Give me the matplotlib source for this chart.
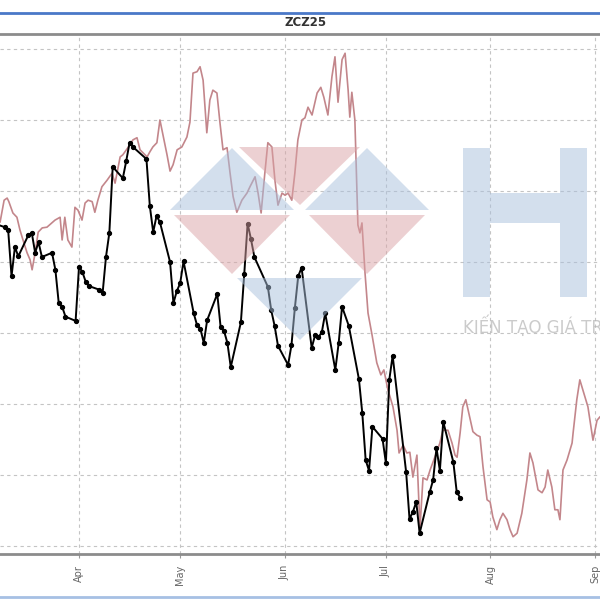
import matplotlib

matplotlib.use("Agg")
import matplotlib.dates as mdates
import matplotlib.pyplot as plt
import numpy as np
import pandas as pd
from matplotlib.lines import Line2D
from matplotlib.patches import Polygon, Rectangle

contract = "ZCZ25"

# black series: one close per CBOT trading day
cbot_holidays = ["2025-04-18", "2025-05-26", "2025-06-19", "2025-07-04"]
black_dates = pd.bdate_range("2025-03-07", "2025-07-23", freq="C", holidays=cbot_holidays)
black_vals = [
    # March
    445.4, 444.9, 444.5, 438.0, 442.1, 440.8, 443.8, 444.1, 441.3, 442.8,
    440.7, 441.3, 438.9, 434.2, 433.7, 432.3, 431.7,
    # April
    439.3, 438.6, 437.2, 436.6, 436.1, 435.6, 440.7, 444.1, 453.4, 451.8,
    454.2, 456.8, 456.2, 454.5, 447.9, 444.2, 446.5, 445.6, 440.0, 434.2,
    435.9,
    # May
    437.0, 440.1, 432.8, 431.1, 430.6, 428.6, 431.8, 435.5, 430.8, 430.3,
    428.6, 425.2, 431.5, 438.3, 445.4, 443.2, 440.7, 436.5, 433.2, 431.0,
    428.2,
    # June
    425.5, 428.3, 433.5, 438.0, 439.2, 427.9, 429.7, 429.4, 430.1, 432.8,
    424.8, 428.6, 433.7, 431.0, 423.5, 418.7, 412.1, 410.6, 416.8, 415.1,
    # July
    411.7, 423.4, 426.8, 410.4, 403.8, 404.8, 406.2, 401.8, 407.6, 409.3,
    413.8, 410.6, 417.5, 411.8, 407.6, 406.8,
]

# rosy series: days counted from 1 April 2025
pink_days = [
    -24.5, -23.4, -22.2, -21.3, -20.8, -19.6, -18.4, -17.5, -16.6, -15.4,
    -14.5, -13.9, -13.0, -12.1, -10.9, -9.5, -7.1, -5.6, -5.0, -4.2,
    -3.3, -2.1, -1.2, -0.3, 0.9, 1.8, 2.7, 3.9, 4.7, 5.6,
    6.8, 8.3, 9.8, 10.7, 12.2, 13.0, 14.5, 16.0, 17.2, 18.1,
    20.2, 21.0, 21.9, 23.1, 24.0, 24.9, 26.1, 27.0, 27.9, 29.1,
    30.5, 32.0, 32.9, 33.8, 35.0, 35.9, 36.8, 37.9, 38.8, 39.7,
    40.9, 41.8, 42.7, 43.9, 44.8, 45.7, 46.8, 48.3, 49.8, 50.7,
    52.2, 53.1, 54.0, 55.1, 56.0, 57.2, 58.1, 59.0, 60.2, 61.1,
    62.0, 63.1, 64.0, 64.9, 66.1, 67.0, 67.9, 69.1, 70.6, 71.7,
    72.6, 73.8, 75.0, 75.9, 76.8, 78.0, 78.9, 79.8, 80.3, 80.9,
    81.8, 82.7, 83.3, 83.9, 84.8, 85.7, 86.9, 88.3, 89.5, 90.4,
    91.6, 93.1, 94.3, 94.9, 96.1, 97.2, 98.1, 99.0, 100.2, 101.1,
    102.0, 103.2, 104.1, 105.5, 107.0, 107.9, 109.4, 110.6, 111.5, 112.1,
    113.0, 113.8, 114.7, 115.6, 116.8, 118.0, 118.9, 119.8, 121.0, 121.9,
    122.7, 123.9, 124.8, 125.7, 126.9, 127.8, 128.7, 129.9, 131.3, 132.8,
    133.7, 134.6, 136.1, 137.3, 138.2, 139.0, 140.2, 141.1, 142.0, 142.6,
    143.5, 144.7, 146.2, 146.5, 147.6, 148.5, 150.0, 150.9, 152.4, 153.6,
    154.5, 155.5,
]
pink_vals = [
    446.0, 445.6, 448.7, 449.0, 448.5, 446.9, 446.3, 444.5, 443.1, 441.3,
    440.3, 438.9, 441.3, 444.2, 444.8, 444.9, 445.9, 446.3, 443.1, 446.3,
    443.1, 442.1, 447.7, 447.3, 445.9, 448.3, 448.7, 448.5, 447.0, 448.7,
    450.6, 451.5, 452.5, 451.1, 454.8, 455.1, 456.1, 457.2, 457.5, 455.8,
    454.8, 455.5, 456.2, 456.8, 460.0, 457.9, 455.1, 452.8, 453.7, 455.8,
    456.2, 457.6, 459.7, 466.6, 466.8, 467.5, 465.6, 458.2, 462.8, 464.2,
    463.8, 459.6, 455.8, 456.1, 452.5, 449.2, 447.0, 448.7, 449.7, 450.6,
    452.0, 449.7, 446.9, 452.5, 456.8, 456.2, 451.5, 448.0, 449.7, 449.4,
    449.7, 448.7, 452.5, 457.2, 460.0, 460.3, 461.8, 460.7, 463.8, 464.6,
    463.2, 460.7, 466.1, 468.9, 462.5, 468.5, 469.4, 464.2, 460.4, 463.9,
    460.0, 445.2, 444.1, 445.5, 438.5, 432.8, 429.7, 425.8, 424.1, 424.8,
    422.0, 419.6, 416.3, 413.1, 414.2, 413.1, 413.2, 409.7, 412.8, 402.5,
    409.6, 409.3, 410.7, 412.5, 414.5, 416.3, 416.3, 414.5, 412.8, 412.5,
    415.9, 419.6, 420.6, 418.7, 416.1, 415.6, 415.4, 411.1, 406.5, 406.2,
    404.1, 402.3, 403.7, 404.6, 403.7, 402.3, 401.3, 401.8, 404.6, 409.3,
    413.1, 411.7, 407.9, 407.5, 408.3, 410.7, 408.3, 405.1, 405.1, 403.7,
    410.7, 412.1, 414.5, 415.9, 420.6, 423.4, 421.0, 419.6, 414.9, 417.7,
    418.2, 418.5,
]

month_ticks = ["2025-04-01", "2025-05-01", "2025-06-01", "2025-07-01", "2025-08-01", "2025-09-01"]
month_labels = ["Apr", "May", "Jun", "Jul", "Aug", "Sep"]
price_grid = np.arange(400, 471, 10)


def px(x, y):
    """Pixel position on the 600x600 canvas -> figure fraction."""
    return (x / 600.0, 1.0 - y / 600.0)


fig = plt.figure(figsize=(6, 6), dpi=100)
ax = fig.add_axes([0.0, 46 / 600, 1.0, (554 - 34) / 600])

apr1 = mdates.date2num(np.datetime64("2025-04-01"))
pink_x = apr1 + np.array(pink_days)

ax.plot(pink_x, pink_vals, color="#c3868b", linewidth=1.2, zorder=3)
ax.plot(black_dates, black_vals, color="black", linewidth=1.4,
        marker="o", markersize=2.8, zorder=4)

ax.set_xlim(apr1 - 23.42, mdates.date2num(np.datetime64("2025-09-01")) + 1.48)
ax.set_ylim(398.87, 472.11)

ax.set_xticks([mdates.date2num(np.datetime64(d)) for d in month_ticks])
ax.set_xticklabels(month_labels, rotation=90, fontsize=7, color="#666666")
ax.set_yticks(price_grid)
ax.tick_params(axis="y", labelleft=False, length=0)
ax.tick_params(axis="x", length=3, color="#999999", pad=5)
ax.grid(True, color="#c4c4c4", linestyle=(0, (3, 3)), linewidth=0.8)
ax.set_axisbelow(True)

for side in ("left", "right"):
    ax.spines[side].set_visible(False)
for side in ("top", "bottom"):
    ax.spines[side].set_color("#8c8c8c")
    ax.spines[side].set_linewidth(2)

fig.text(*px(306, 23), contract, ha="center", va="center",
         fontsize=8.5, fontweight="bold", color="#333333")

fig.add_artist(Line2D([0, 1], [px(0, 13)[1]] * 2, color="#4a78c8", linewidth=2))
fig.add_artist(Line2D([0, 1], [px(0, 597)[1]] * 2, color="#a6c0e4", linewidth=2))

# watermark logo
wm_blue = "#a9c0dc"
wm_pink = "#dba3a6"
logo = [
    ([(170, 210), (232, 148), (294, 210)], wm_blue),
    ([(174, 215), (290, 215), (232, 274)], wm_pink),
    ([(305, 210), (367, 148), (429, 210)], wm_blue),
    ([(309, 215), (425, 215), (367, 274)], wm_pink),
    ([(239, 147), (360, 147), (300, 205)], wm_pink),
    ([(237, 278), (362, 278), (300, 340)], wm_blue),
]
for pts, col in logo:
    ax.add_patch(Polygon([px(x, y) for x, y in pts], closed=True, transform=fig.transFigure,
                         facecolor=col, edgecolor="none", alpha=0.5, zorder=6, clip_on=False))
for x0, y0, w, h in [(463, 148, 27, 149), (560, 148, 27, 149), (490, 193, 70, 30)]:
    ax.add_patch(Rectangle(px(x0, y0 + h), w / 600, h / 600, transform=fig.transFigure,
                           facecolor=wm_blue, edgecolor="none", alpha=0.5, zorder=6, clip_on=False))
fig.text(*px(463, 326), "KIẾN TẠO GIÁ TRỊ", ha="left", va="center",
         fontsize=12, color="#b5b5b5", alpha=0.7)

fig.savefig("out.png", dpi=100)
plt.close(fig)
